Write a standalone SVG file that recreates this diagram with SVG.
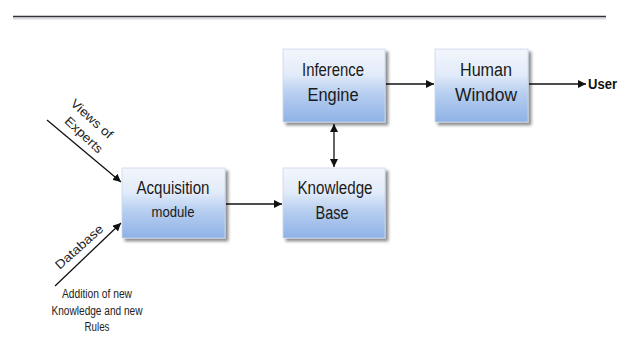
<svg xmlns="http://www.w3.org/2000/svg" width="626" height="362" viewBox="0 0 626 362">
<defs>
<linearGradient id="g" x1="0" y1="0" x2="0" y2="1">
<stop offset="0" stop-color="#f3f6fc"/>
<stop offset="0.35" stop-color="#e2ebf9"/>
<stop offset="0.6" stop-color="#b8cff0"/>
<stop offset="1" stop-color="#8eb2e6"/>
</linearGradient>
<filter id="sh" x="-10%" y="-10%" width="130%" height="130%">
<feGaussianBlur in="SourceAlpha" stdDeviation="1.5"/>
<feOffset dx="3" dy="3" result="b"/>
<feComponentTransfer><feFuncA type="linear" slope="0.45"/></feComponentTransfer>
<feMerge><feMergeNode/><feMergeNode in="SourceGraphic"/></feMerge>
</filter>
<marker id="ah" viewBox="0 0 10 10" refX="10" refY="5" markerWidth="8" markerHeight="8" markerUnits="userSpaceOnUse" orient="auto-start-reverse">
<path d="M0,0 L10,5 L0,10 z" fill="#111"/>
</marker>
</defs>
<style>
.box{fill:url(#g);stroke:#c9d8ee;stroke-width:0.8;filter:url(#sh)}
.t{font-family:"Liberation Sans",Arial,sans-serif;fill:#1a1a1a;text-anchor:middle}
.big{font-size:18px}
.sm{font-size:14px}
.lbl{font-family:"Liberation Sans",Arial,sans-serif;fill:#222;font-size:12.5px;text-anchor:middle}
.c{stroke:#111;stroke-width:1.3;fill:none}
</style>
<line x1="13" y1="18.5" x2="606" y2="18.5" stroke="#d8dbe6" stroke-width="2"/>
<line x1="13" y1="16.5" x2="606" y2="16.5" stroke="#333" stroke-width="1.6"/>
<g id="connectors">
<line class="c" x1="47" y1="120" x2="121" y2="182" marker-end="url(#ah)"/>
<line class="c" x1="55" y1="286" x2="121" y2="223" marker-end="url(#ah)"/>
<line class="c" x1="226" y1="204" x2="282" y2="204" marker-end="url(#ah)"/>
<line class="c" x1="334" y1="124" x2="334" y2="167" marker-start="url(#ah)" marker-end="url(#ah)"/>
<line class="c" x1="386" y1="84" x2="434" y2="84" marker-end="url(#ah)"/>
<line class="c" x1="529" y1="84" x2="586" y2="84" marker-end="url(#ah)"/>
</g>
<g id="acquisition">
<rect class="box" x="122" y="168" width="103" height="70"/>
<text class="t big" x="173" y="194" textLength="73" lengthAdjust="spacingAndGlyphs">Acquisition</text>
<text class="t sm" x="173" y="217" textLength="43" lengthAdjust="spacingAndGlyphs">module</text>
</g>
<g id="knowledge">
<rect class="box" x="283" y="168" width="102" height="70"/>
<text class="t big" x="335" y="194" textLength="75" lengthAdjust="spacingAndGlyphs">Knowledge</text>
<text class="t big" x="332" y="219" textLength="33" lengthAdjust="spacingAndGlyphs">Base</text>
</g>
<g id="inference">
<rect class="box" x="283" y="49" width="102" height="73"/>
<text class="t big" x="333" y="76" textLength="62" lengthAdjust="spacingAndGlyphs">Inference</text>
<text class="t big" x="333" y="101" textLength="51" lengthAdjust="spacingAndGlyphs">Engine</text>
</g>
<g id="human">
<rect class="box" x="435" y="49" width="93" height="73"/>
<text class="t big" x="486" y="76" textLength="52" lengthAdjust="spacingAndGlyphs">Human</text>
<text class="t big" x="486" y="101" textLength="62" lengthAdjust="spacingAndGlyphs">Window</text>
</g>
<g id="user">
<text x="588" y="89" font-family="Liberation Sans,Arial,sans-serif" font-size="14" font-weight="bold" fill="#111" textLength="29" lengthAdjust="spacingAndGlyphs">User</text>
</g>
<g id="labels">
<text class="lbl" transform="translate(89,122) rotate(42)" font-size="14" textLength="52" lengthAdjust="spacingAndGlyphs">Views of</text>
<text class="lbl" transform="translate(81,138) rotate(43)" font-size="14" textLength="47" lengthAdjust="spacingAndGlyphs">Experts</text>
<text class="lbl" transform="translate(82,250) rotate(-42)" font-size="15" textLength="60" lengthAdjust="spacingAndGlyphs">Database</text>
<text class="lbl" x="97" y="298" textLength="70" lengthAdjust="spacingAndGlyphs">Addition of new</text>
<text class="lbl" x="97" y="315" textLength="91" lengthAdjust="spacingAndGlyphs">Knowledge and new</text>
<text class="lbl" x="97" y="331" textLength="25" lengthAdjust="spacingAndGlyphs">Rules</text>
</g>
</svg>
